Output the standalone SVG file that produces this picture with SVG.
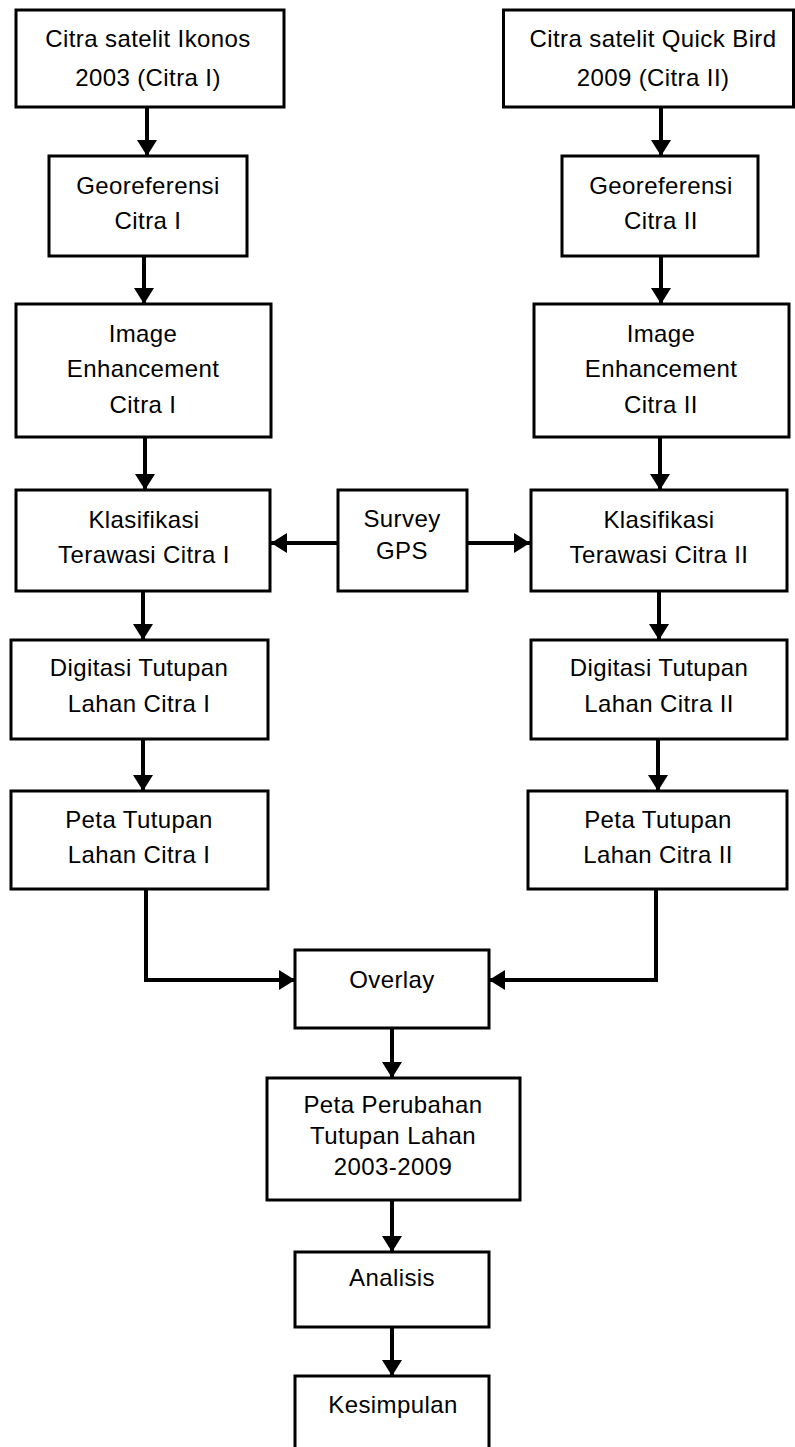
<svg xmlns="http://www.w3.org/2000/svg" width="795" height="1447" viewBox="0 0 795 1447">
<style>
.box{fill:#fff;stroke:#000;stroke-width:3}
.t{font-family:"Liberation Sans",Arial,sans-serif;font-size:24px;letter-spacing:0.4px;fill:#000;text-anchor:middle}
.c{fill:none;stroke:#000;stroke-width:4}
</style>
<defs>
<marker id="ah" markerUnits="userSpaceOnUse" markerWidth="16" markerHeight="20" refX="16" refY="10" orient="auto">
<path d="M0,0 L16,10 L0,20 z" fill="#000"/>
</marker>
</defs>
<rect width="795" height="1447" fill="#fff"/>
<g id="connectors">
<line class="c" x1="147" y1="107" x2="147" y2="156" marker-end="url(#ah)"/>
<line class="c" x1="144" y1="256" x2="144" y2="304" marker-end="url(#ah)"/>
<line class="c" x1="145" y1="437" x2="145" y2="490" marker-end="url(#ah)"/>
<line class="c" x1="143" y1="591" x2="143" y2="640" marker-end="url(#ah)"/>
<line class="c" x1="143" y1="739" x2="143" y2="791" marker-end="url(#ah)"/>
<line class="c" x1="661" y1="107" x2="661" y2="156" marker-end="url(#ah)"/>
<line class="c" x1="661" y1="256" x2="661" y2="304" marker-end="url(#ah)"/>
<line class="c" x1="660" y1="437" x2="660" y2="490" marker-end="url(#ah)"/>
<line class="c" x1="659" y1="591" x2="659" y2="640" marker-end="url(#ah)"/>
<line class="c" x1="658" y1="739" x2="658" y2="791" marker-end="url(#ah)"/>
<line class="c" x1="338" y1="543" x2="271" y2="543" marker-end="url(#ah)"/>
<line class="c" x1="467" y1="543" x2="530" y2="543" marker-end="url(#ah)"/>
<path class="c" d="M146,889 V980 H295" marker-end="url(#ah)"/>
<path class="c" d="M656,889 V980 H489" marker-end="url(#ah)"/>
<line class="c" x1="392" y1="1028" x2="392" y2="1078" marker-end="url(#ah)"/>
<line class="c" x1="392" y1="1200" x2="392" y2="1252" marker-end="url(#ah)"/>
<line class="c" x1="392" y1="1327" x2="392" y2="1376" marker-end="url(#ah)"/>
</g>
<g id="n-l1"><rect class="box" x="16" y="10" width="268" height="97"/><text class="t" x="148" y="47">Citra satelit Ikonos</text><text class="t" x="148" y="86">2003 (Citra I)</text></g>
<g id="n-r1"><rect class="box" x="503.5" y="10" width="290" height="97"/><text class="t" x="653" y="47">Citra satelit Quick Bird</text><text class="t" x="653" y="86">2009 (Citra II)</text></g>
<g id="n-l2"><rect class="box" x="49" y="156" width="198" height="100"/><text class="t" x="148" y="194">Georeferensi</text><text class="t" x="148" y="229">Citra I</text></g>
<g id="n-r2"><rect class="box" x="562" y="156" width="196" height="100"/><text class="t" x="661" y="194">Georeferensi</text><text class="t" x="661" y="229">Citra II</text></g>
<g id="n-l3"><rect class="box" x="16" y="304" width="255" height="133"/><text class="t" x="143" y="342">Image</text><text class="t" x="143" y="377">Enhancement</text><text class="t" x="143" y="413">Citra I</text></g>
<g id="n-r3"><rect class="box" x="534" y="304" width="255" height="133"/><text class="t" x="661" y="342">Image</text><text class="t" x="661" y="377">Enhancement</text><text class="t" x="661" y="413">Citra II</text></g>
<g id="n-l4"><rect class="box" x="16" y="490" width="254" height="101"/><text class="t" x="144" y="528">Klasifikasi</text><text class="t" x="144" y="563">Terawasi Citra I</text></g>
<g id="n-survey"><rect class="box" x="338" y="490" width="129" height="101"/><text class="t" x="402" y="527">Survey</text><text class="t" x="402" y="559">GPS</text></g>
<g id="n-r4"><rect class="box" x="531" y="490" width="256" height="101"/><text class="t" x="659" y="528">Klasifikasi</text><text class="t" x="659" y="563">Terawasi Citra II</text></g>
<g id="n-l5"><rect class="box" x="11" y="640" width="257" height="99"/><text class="t" x="139" y="676">Digitasi Tutupan</text><text class="t" x="139" y="712">Lahan Citra I</text></g>
<g id="n-r5"><rect class="box" x="531" y="640" width="256" height="99"/><text class="t" x="659" y="676">Digitasi Tutupan</text><text class="t" x="659" y="712">Lahan Citra II</text></g>
<g id="n-l6"><rect class="box" x="11" y="791" width="257" height="98"/><text class="t" x="139" y="828">Peta Tutupan</text><text class="t" x="139" y="863">Lahan Citra I</text></g>
<g id="n-r6"><rect class="box" x="528" y="791" width="259" height="98"/><text class="t" x="658" y="828">Peta Tutupan</text><text class="t" x="658" y="863">Lahan Citra II</text></g>
<g id="n-overlay"><rect class="box" x="295" y="950" width="194" height="78"/><text class="t" x="392" y="988">Overlay</text></g>
<g id="n-perubahan"><rect class="box" x="267" y="1078" width="253" height="122"/><text class="t" x="393" y="1113">Peta Perubahan</text><text class="t" x="393" y="1144">Tutupan Lahan</text><text class="t" x="393" y="1175">2003-2009</text></g>
<g id="n-analisis"><rect class="box" x="295" y="1252" width="194" height="75"/><text class="t" x="392" y="1286">Analisis</text></g>
<g id="n-kesimpulan"><rect class="box" x="295" y="1376" width="194" height="100"/><text class="t" x="393" y="1413">Kesimpulan</text></g>
</svg>
